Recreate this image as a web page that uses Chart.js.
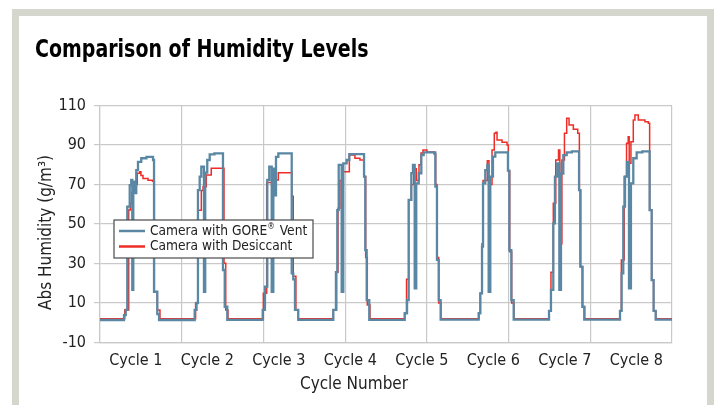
<!DOCTYPE html>
<html><head><meta charset="utf-8">
<script src="https://cdn.jsdelivr.net/npm/chart.js@4/dist/chart.umd.min.js"></script>
<style>
html,body{margin:0;padding:0;background:#fff;width:717px;height:405px;overflow:hidden}
#frame{position:absolute;left:12px;top:9px;width:702px;height:400px;box-sizing:border-box;border:7px solid #d5d6ce;border-bottom:none}
#wrap{position:absolute;left:0;top:0;width:717px;height:405px}
</style></head><body>
<div id="frame"></div>
<div id="wrap"><canvas id="c" width="717" height="405"></canvas></div>
<script>
// ---- data ----
const chartTitle = 'Comparison of Humidity Levels';
const xAxisTitle = 'Cycle Number';
const yAxisTitle = 'Abs Humidity (g/m³)';
const cycleLabels = ['Cycle 1','Cycle 2','Cycle 3','Cycle 4','Cycle 5','Cycle 6','Cycle 7','Cycle 8'];
const seriesNames = ['Camera with GORE® Vent', 'Camera with Desiccant'];
// [sample index, abs humidity g/m3]
const goreVent = [
 [0,1.4],
 [23.5,3.9],[25.2,6.5],[26.7,58.8],[29.1,69.7],[30.6,72.3],[31.6,16.6],[32.6,71.4],[34.0,65.7],[35.5,77.3],[37.2,81.5],[40.4,83.3],[45.5,84.0],[51.9,82.4],[52.9,15.7],[56.1,4.4],[57.8,1.4],
 [92.7,6.5],[94.5,10],[95.9,67.2],[97.6,74],[99.2,79],[101.8,15.7],[103.0,76],[105.0,82.4],[107.4,85.3],[112,85.8],[120.4,26.7],[122.1,8.1],[124.6,1.5],
 [159.3,6.5],[161.5,18.3],[163.8,72.3],[165.7,79],[168.1,15.7],[169.7,78],[171.0,64.5],[172.3,84],[174.6,85.8],[187.7,25],[189.2,22],[190.9,6.5],[194.1,1.5],
 [228.4,6.5],[231.0,25.6],[232.3,57],[233.7,79.9],[236.6,15.7],[238.2,80.7],[241.5,82.4],[244.1,85.4],[258.5,74],[259.7,36.8],[261.1,11.5],[263.6,1.5],
 [298.3,4.8],[300.6,11.5],[302.2,62.2],[304.8,75.7],[306.4,79.9],[308.1,17.4],[309.6,70.6],[312.0,75.7],[314.6,84.9],[316.9,86.3],[328.3,68.9],[329.9,31.8],[331.6,11.5],[333.5,1.6],
 [370.7,4.8],[372.3,14.9],[374.0,38.5],[375.0,70.6],[377.2,77.3],[379.2,79.9],[380.5,15.7],[382.1,74],[384.7,84.1],[387.0,86.3],[399.4,77],[400.7,36.8],[402.7,11.5],[405.0,1.6],
 [439.6,6],[441.5,16.6],[443.8,50.3],[445.4,74],[447.7,80.7],[449.7,16.6],[451.3,75.5],[453.6,84.9],[456.9,86.3],[462,86.8],[469.0,67.2],[470.2,28.4],[472.2,8.1],[474.1,1.6],
 [509.1,6],[510.7,25],[512.3,58.8],[514.0,74],[515.9,81.5],[517.9,17.4],[519.8,70.6],[522.1,83.3],[525.4,86.3],[531,86.8],[538.1,57],[540.1,21.6],[542.0,6],[544.0,1.6],[560,1.6]
];
const desiccant = [
 [0,2.0],
 [24.2,6.5],[28.1,57.1],[29.7,60.5],[31.3,66],[34.0,70],[36.5,75.7],[38.8,76.5],[40.1,74.5],[42.1,73.1],[47.0,72.2],[51.4,71.6],[53.2,15.7],[56.1,6.5],[58.7,2.0],
 [93.6,10],[95.9,57],[99.2,67],[100.9,68.9],[104.1,74.8],[108.9,78.2],[121.4,30.1],[123.1,6.5],[125.3,2.0],
 [159.9,14.9],[163.2,71],[168.1,68.9],[171.3,72.3],[174.6,76],[187.7,64],[189.2,23.5],[191.8,6.5],[194.1,2.0],
 [228.4,6.5],[231.7,25.6],[233.0,58],[234.9,72],[238.2,76.5],[244.1,84.9],[249.6,83.3],[254.5,82.4],[258.5,74],[260.1,33],[261.7,9],[264.3,2.0],
 [298.3,4.8],[300.1,22],[302.2,62.2],[304.8,70],[307.1,78],[309.6,72],[312.3,80],[314.3,86],[316.2,87.5],[320.1,86.5],[327.0,85.5],[328.6,70],[329.9,33],[331.6,10],[333.8,2.0],
 [371.0,4.8],[372.4,14.9],[374.0,40],[375.0,72],[379.2,82],[380.8,70],[383.8,87.5],[386.0,95.9],[387.7,96.4],[388.7,92.5],[393.6,91.4],[398.5,90],[399.7,77],[401.1,36],[403.0,10],[405.3,2.0],
 [439.6,6],[441.5,25.6],[443.8,60.5],[446.2,82.4],[448.9,87.5],[450.2,40],[452.2,82.4],[454.7,95.9],[456.9,103.5],[459.2,100.1],[463.4,98],[467.7,95.9],[469.3,67.2],[470.6,28.4],[472.6,8.1],[474.5,2.0],
 [509.1,6],[510.4,31.8],[513.2,74],[515.5,90.9],[517.1,94.2],[518.1,80.7],[519.8,91.7],[522.1,102.7],[523.7,105.2],[527.0,102.7],[533.5,101.8],[536.8,101],[538.1,57],[540.1,21.6],[542.0,6],[544.2,2.0],[560,2.0]
];
const xMax = 560;         // total samples on the axis
const xGridCount = 7;     // vertical gridline intervals
const yMin = -10, yMax = 110, yStep = 20;

// ---- style ----
const FONT = "'Liberation Sans Narrow','DejaVu Sans Condensed','Roboto',sans-serif";
const BLUE = '#5a87a3';
const RED = '#ee2e26';
const GRID = '#c9c9c9';
const TXT = '#222222';

const gridTicks = [];
for (let i = 0; i <= xGridCount; i++) gridTicks.push(xMax * i / xGridCount);
const labelTicks = cycleLabels.map((_, i) => xMax * (i + 0.5) / cycleLabels.length);

const legendPlugin = {
  id: 'boxLegend',
  afterDraw(chart) {
    const {ctx, chartArea} = chart;
    const x = chartArea.left + 14, y = chartArea.top + 114.5, w = 199, h = 38;
    ctx.save();
    ctx.fillStyle = '#fff';
    ctx.fillRect(x, y, w, h);
    ctx.strokeStyle = '#4a4a4a';
    ctx.lineWidth = 1.2;
    ctx.strokeRect(x, y, w, h);
    chart.data.datasets.forEach((ds, i) => {
      const ly = y + 11 + i * 15.5;
      ctx.strokeStyle = ds.borderColor;
      ctx.lineWidth = 2.5;
      ctx.beginPath(); ctx.moveTo(x + 5, ly); ctx.lineTo(x + 31, ly); ctx.stroke();
      ctx.fillStyle = TXT;
      ctx.textBaseline = 'middle';
      ctx.textAlign = 'left';
      ctx.save();
      ctx.translate(x + 36, ly);
      ctx.scale(0.94, 1);
      const parts = ds.label.split('®');
      let tx = 0;
      ctx.font = '14.5px ' + FONT;
      ctx.fillText(parts[0], tx, 0);
      if (parts.length > 1) {
        tx += ctx.measureText(parts[0]).width;
        ctx.font = '9px ' + FONT;
        ctx.fillText('®', tx, -4);
        tx += ctx.measureText('®').width + 1;
        ctx.font = '14.5px ' + FONT;
        ctx.fillText(parts[1], tx, 0);
      }
      ctx.restore();
    });
    ctx.restore();
  }
};

const textPlugin = {
  id: 'texts',
  afterDraw(chart) {
    const {ctx, chartArea} = chart;
    ctx.save();
    // chart title (condensed)
    ctx.font = 'bold 24px ' + FONT;
    ctx.fillStyle = '#000';
    ctx.textAlign = 'left';
    ctx.textBaseline = 'middle';
    ctx.save();
    ctx.translate(35, 50.4);
    ctx.scale(0.88, 1);
    ctx.fillText(chartTitle, 0, 0);
    ctx.restore();
    // x axis title
    ctx.font = '17px ' + FONT;
    ctx.fillStyle = TXT;
    ctx.textAlign = 'center';
    ctx.fillText(xAxisTitle, chartArea.left + 254, chartArea.bottom + 42.5);
    // y axis title
    ctx.save();
    ctx.translate(46.6, chartArea.top + 127);
    ctx.rotate(-Math.PI / 2);
    ctx.fillText(yAxisTitle, 0, 0);
    ctx.restore();
    ctx.restore();
  }
};

new Chart(document.getElementById('c'), {
  type: 'line',
  data: {
    datasets: [
      { label: seriesNames[0], data: goreVent.map(([x, y]) => ({x, y})), borderColor: BLUE, borderWidth: 2.3 },
      { label: seriesNames[1], data: desiccant.map(([x, y]) => ({x, y})), borderColor: RED, borderWidth: 1.5 }
    ]
  },
  options: {
    responsive: false,
    animation: false,
    devicePixelRatio: 1,
    datasets: { line: { stepped: 'before', pointRadius: 0, fill: false, tension: 0 } },
    layout: { padding: { left: 35, right: 45, top: 105.5, bottom: 34.5 } },
    plugins: {
      legend: { display: false },
      tooltip: { enabled: false },
      title: { display: false }
    },
    scales: {
      x: {
        type: 'linear', min: 0, max: xMax,
        afterBuildTicks: (s) => { s.ticks = gridTicks.concat(labelTicks).sort((a, b) => a - b).map(v => ({value: v})); },
        afterFit: (s) => { s.height = 28; },
        ticks: {
          autoSkip: false, maxRotation: 0, padding: 9, color: TXT,
          font: { family: FONT, size: 16, lineHeight: 1.2 },
          callback: (v) => { const i = labelTicks.indexOf(v); return i >= 0 ? cycleLabels[i] : ''; }
        },
        grid: {
          drawTicks: false, lineWidth: 1.2,
          color: (c) => (c.tick && gridTicks.indexOf(c.tick.value) >= 0) ? GRID : 'rgba(0,0,0,0)'
        },
        border: { display: true, color: GRID, width: 1.2 }
      },
      y: {
        min: yMin, max: yMax,
        afterFit: (s) => { s.width = 65; },
        ticks: { stepSize: yStep, padding: 8, color: TXT, font: { family: FONT, size: 16, lineHeight: 1.2 } },
        grid: { color: GRID, lineWidth: 1.2, tickLength: 6, tickColor: GRID },
        border: { display: true, color: GRID, width: 1.2 }
      }
    }
  },
  plugins: [legendPlugin, textPlugin]
});
</script>
</body></html>
